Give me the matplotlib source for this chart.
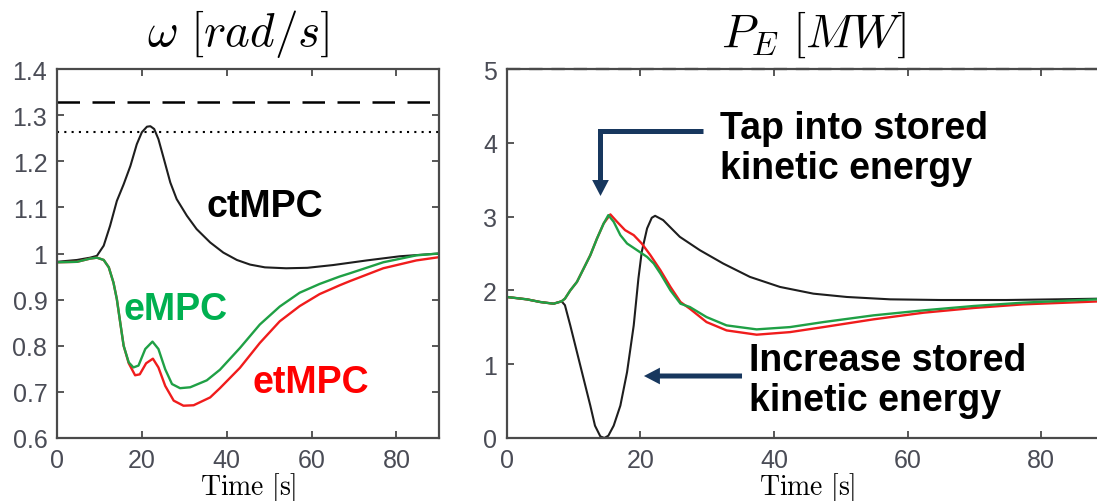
import matplotlib.pyplot as plt
from matplotlib.patches import FancyArrowPatch

plt.rcParams['mathtext.fontset'] = 'cm'

# omega [rad/s]
T_CT = [0, 4.7, 7.8, 9.4, 11, 12.5, 14.1, 15.7, 17.3, 18.8, 20, 21.2, 22, 22.9, 23.9,
        25.1, 26.7, 28.2, 30.6, 32.9, 36.1, 39.2, 42.4, 45.5, 49, 54, 59, 65.1, 73,
        80.8, 90]
W_CT = [0.982, 0.986, 0.991, 0.995, 1.017, 1.06, 1.114, 1.15, 1.19, 1.237, 1.263, 1.275,
        1.276, 1.27, 1.248, 1.208, 1.154, 1.118, 1.082, 1.053, 1.024, 1.002, 0.986,
        0.976, 0.970, 0.968, 0.969, 0.975, 0.985, 0.994, 1.0]

T_E = [0, 4.7, 7.8, 9.4, 11, 12.2, 13.3, 14.1, 14.9, 15.7, 16.9, 18, 19.2, 20.8, 22.5,
       23.9, 25.5, 27.1, 29, 31.4, 35.3, 38.4, 43.1, 47.8, 52.5, 57.2, 61.9, 66.6, 69,
       76.9, 84.7, 90]
W_E = [0.981, 0.982, 0.989, 0.991, 0.986, 0.970, 0.937, 0.901, 0.85, 0.80, 0.764, 0.753,
       0.757, 0.793, 0.809, 0.793, 0.749, 0.717, 0.708, 0.71, 0.725, 0.748, 0.795, 0.846,
       0.885, 0.915, 0.934, 0.950, 0.957, 0.981, 0.996, 1.0]

T_ET = [0, 4.7, 7.8, 9.4, 11, 12.2, 13.3, 14.1, 14.9, 15.7, 16.9, 18.4, 19.5, 21, 22.6,
        23.9, 25.5, 27.5, 29.8, 32.2, 36.1, 38.4, 43.1, 47.8, 52.5, 57.2, 61.9, 66.6, 69,
        76.9, 84.7, 90]
W_ET = [0.981, 0.982, 0.989, 0.991, 0.986, 0.970, 0.937, 0.901, 0.85, 0.80, 0.762, 0.736,
        0.738, 0.762, 0.772, 0.753, 0.713, 0.681, 0.670, 0.671, 0.688, 0.708, 0.752, 0.806,
        0.853, 0.886, 0.912, 0.931, 0.940, 0.968, 0.985, 0.992]

W_MAX = 1.329
W_SOFT = 1.264

# P_E [MW]
TP_CT = [0, 3, 5, 7, 8.2, 8.7, 9.5, 10.5, 11.5, 12.5, 13.2, 14, 14.6, 15.2, 16, 17, 18,
         19, 19.7, 20.2, 21, 21.7, 22.2, 23.4, 25.9, 28.9, 32.4, 36.4, 40.9, 45.9, 50.9,
         57.4, 64.9, 74.8, 82.3, 90]
P_CT = [1.911, 1.879, 1.843, 1.82, 1.852, 1.80, 1.526, 1.164, 0.801, 0.439, 0.167, 0.022,
        0.0, 0.031, 0.167, 0.439, 0.892, 1.526, 2.16, 2.522, 2.84, 2.984, 3.011, 2.953,
        2.726, 2.545, 2.364, 2.183, 2.047, 1.956, 1.911, 1.879, 1.87, 1.87, 1.879, 1.89]

TP_E = [0, 3, 5, 7, 8.2, 8.7, 9.5, 10.5, 11.5, 12.5, 13.5, 14.5, 15.2, 16, 17, 18, 19.5,
        21, 22, 23, 24.5, 26, 27.4, 29.9, 32.9, 37.4, 42.4, 47.4, 54.9, 62.4, 69.9, 77.3,
        88.3, 90]
P_E = [1.911, 1.879, 1.843, 1.82, 1.852, 1.888, 2.0, 2.115, 2.296, 2.477, 2.703, 2.907,
       3.02, 2.93, 2.749, 2.636, 2.545, 2.454, 2.364, 2.228, 2.0, 1.82, 1.775, 1.639,
       1.526, 1.472, 1.503, 1.571, 1.662, 1.73, 1.789, 1.834, 1.879, 1.882]

TP_ET = [0, 3, 5, 7, 8.2, 8.7, 9.5, 10.5, 11.5, 12.5, 13.5, 14.5, 15.5, 16.5, 17.7, 19,
         20.2, 21.5, 23, 24.5, 26, 27.4, 29.9, 32.9, 37.4, 42.4, 47.4, 54.9, 62.4, 69.9,
         77.3, 88.3, 90]
P_ET = [1.911, 1.879, 1.843, 1.82, 1.852, 1.888, 2.0, 2.115, 2.296, 2.477, 2.703, 2.907,
        3.03, 2.93, 2.817, 2.749, 2.636, 2.477, 2.273, 2.047, 1.843, 1.752, 1.571, 1.458,
        1.40, 1.435, 1.503, 1.608, 1.698, 1.762, 1.811, 1.85, 1.855]

P_MAX = 5.0

BLACK = '#1e1e1e'
GREEN = '#1fa045'
RED = '#f01c1c'
NAVY = '#17375e'
TICK_COLOR = '#4a4c56'


def style_axes(ax):
    for s in ax.spines.values():
        s.set_color('#4a4a4a')
        s.set_linewidth(1.6)
    ax.tick_params(direction='in', top=True, right=True, length=5, width=1.3,
                   color='#4a4a4a', labelsize=18, labelcolor=TICK_COLOR, pad=7)
    for lab in ax.get_xticklabels() + ax.get_yticklabels():
        lab.set_family('Liberation Sans')
    ax.set_xlabel(r'$\mathrm{Time\ [s]}$', fontsize=20, labelpad=-1)


def arrow(fig, start, tip):
    # filled arrow: tail 5 px, head 16 x 16 px
    fig.add_artist(FancyArrowPatch(
        start, tip, transform=fig.transFigure,
        arrowstyle='simple,head_length=1.15,head_width=1.2,tail_width=0.36',
        mutation_scale=10, color=NAVY, lw=0, shrinkA=0, shrinkB=0))


def main():
    fig = plt.figure(figsize=(10.97, 5.02), dpi=100)

    ax1 = fig.add_axes([0.052, 0.1255, 0.348, 0.735])
    ax1.plot(T_CT, W_CT, color=BLACK, lw=1.5)
    ax1.plot(T_ET, W_ET, color=RED, lw=1.7)
    ax1.plot(T_E, W_E, color=GREEN, lw=1.7)
    ax1.axhline(W_MAX, color='black', lw=1.8, ls=(0, (9, 5)))
    ax1.axhline(W_SOFT, color='black', lw=1.5, ls=(0, (1, 2.5)))
    ax1.set_xlim(0, 90)
    ax1.set_ylim(0.6, 1.4)
    ax1.set_xticks([0, 20, 40, 60, 80])
    ax1.set_yticks([0.6, 0.7, 0.8, 0.9, 1.0, 1.1, 1.2, 1.3, 1.4])
    ax1.set_yticklabels(['0.6', '0.7', '0.8', '0.9', '1', '1.1', '1.2', '1.3', '1.4'])
    style_axes(ax1)
    ax1.set_title(r'$\omega\ [rad/s]$', fontsize=34, pad=17, x=0.474)

    bold = dict(family='Liberation Sans', weight='bold', fontsize=27,
                ha='center', va='center')
    ax1.text(0.545, 0.628, 'ctMPC', color='black', transform=ax1.transAxes, **bold)
    ax1.text(0.311, 0.35, 'eMPC', color='#00b050', transform=ax1.transAxes, **bold)
    ax1.text(0.665, 0.152, 'etMPC', color='#ff0000', transform=ax1.transAxes, **bold)

    ax2 = fig.add_axes([0.462, 0.1255, 0.548, 0.735])
    ax2.plot(TP_CT, P_CT, color=BLACK, lw=1.5)
    ax2.plot(TP_ET, P_ET, color=RED, lw=1.7)
    ax2.plot(TP_E, P_E, color=GREEN, lw=1.7)
    ax2.axhline(P_MAX, color='#222222', lw=1.6, ls=(0, (6, 4)), clip_on=False)
    ax2.set_xlim(0, 90)
    ax2.set_ylim(0, 5)
    ax2.set_xticks([0, 20, 40, 60, 80])
    ax2.set_yticks([0, 1, 2, 3, 4, 5])
    style_axes(ax2)
    ax2.set_title(r'$P_E\ [MW]$', fontsize=34, pad=17, x=0.509)

    txt = dict(family='Liberation Sans', weight='bold', fontsize=27,
               color='black', ha='left', va='center', linespacing=1.15)
    fig.text(0.656, 0.703, 'Tap into stored\nkinetic energy', **txt)
    fig.text(0.683, 0.241, 'Increase stored\nkinetic energy', **txt)

    # arrows
    fig.add_artist(plt.Line2D([0.641, 0.545], [0.7365, 0.7365], color=NAVY, lw=3.6,
                              solid_capstyle='butt'))
    arrow(fig, (0.5474, 0.741), (0.5474, 0.6076))
    arrow(fig, (0.6764, 0.249), (0.587, 0.249))

    fig.savefig('out.png', dpi=100)


if __name__ == '__main__':
    main()
